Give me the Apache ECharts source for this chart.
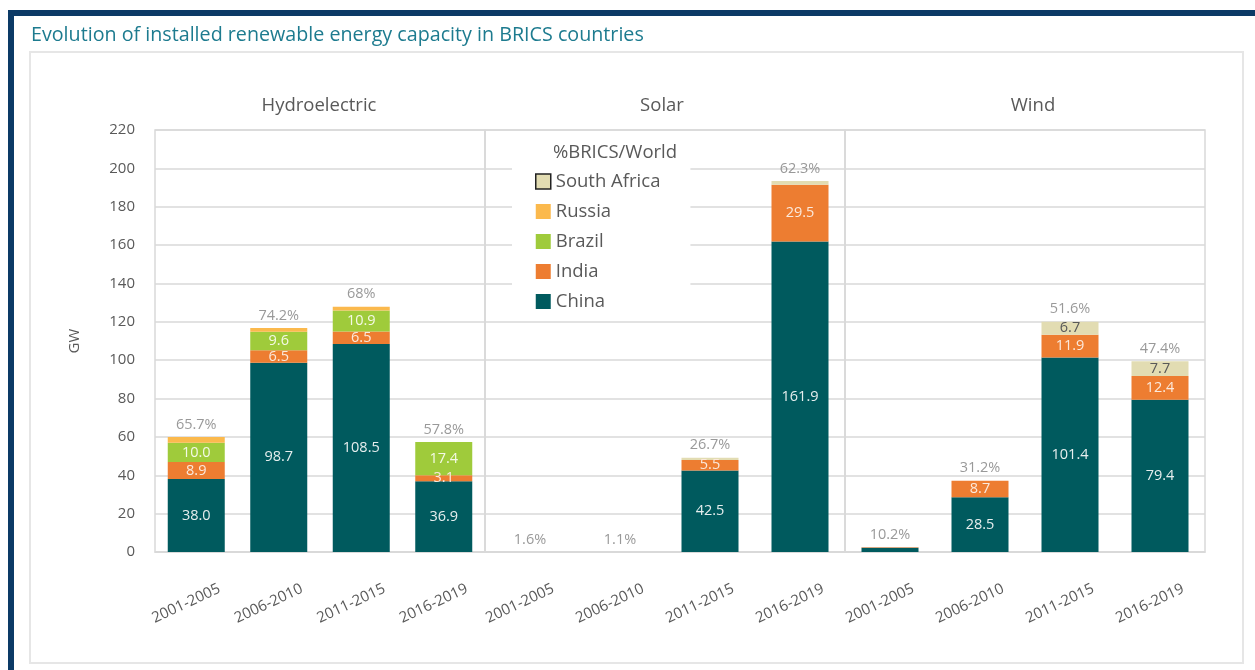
<!DOCTYPE html>
<html>
<head>
<meta charset="utf-8"/>
<title>BRICS renewable capacity</title>
<script src="https://cdn.jsdelivr.net/npm/echarts@6/dist/echarts.min.js"></script>
<style>
  html, body { margin: 0; padding: 0; background: #fff; }
  #chart { width: 1255px; height: 670px; }
</style>
</head>
<body>
<div id="chart"></div>
<script type="text/javascript">
// periods on each panel
var periods = ['2001-2005', '2006-2010', '2011-2015', '2016-2019'];
var panels = ['Hydroelectric', 'Solar', 'Wind'];
var countries = ['China', 'India', 'Brazil', 'Russia', 'South Africa'];

// GW, per panel: hydro, solar, wind
var china  = [[38.0, 98.7, 108.5, 36.9], [0, 0, 42.5, 161.9], [2.2, 28.5, 101.4, 79.4]];
var india  = [[8.9, 6.5, 6.5, 3.1],      [0, 0, 5.5, 29.5],   [0.3, 8.7, 11.9, 12.4]];
var brazil = [[10.0, 9.6, 10.9, 17.4],   [0, 0, 0, 0],        [0, 0, 0, 0]];
var russia = [[3.0, 2.0, 2.0, 0],        [0, 0, 0, 0],        [0, 0, 0, 0]];
var safrica= [[0, 0, 0, 0],              [0, 0, 1.2, 2.0],    [0, 0, 6.7, 7.7]];

// %BRICS/World share shown above each bar
var shares = [['65.7%', '74.2%', '68%', '57.8%'],
              ['1.6%', '1.1%', '26.7%', '62.3%'],
              ['10.2%', '31.2%', '51.6%', '47.4%']];

var yTicks = { min: 0, max: 220, interval: 20 };

var colors = {
  'China': '#005a5e',
  'India': '#ed7d31',
  'Brazil': '#9fcb3b',
  'Russia': '#fbb94d',
  'South Africa': '#e2dcb2'
};
var labelColors = {
  'China': '#e6eeee',
  'India': '#fbe9dc',
  'Brazil': '#f4f9e6',
  'Russia': '#fff',
  'South Africa': '#595959'
};
var valuesOf = {
  'China': china, 'India': india, 'Brazil': brazil, 'Russia': russia, 'South Africa': safrica
};

var font = 'Open Sans';
var grey = '#595959';
var gridLeft = [155, 485, 845];
var gridWidth = [330, 360, 360];
var panelTitleX = [314, 657, 1028];

var grids = [], xAxes = [], yAxes = [], series = [];
var titles = [{
  text: 'Evolution of installed renewable energy capacity in BRICS countries',
  left: 26, top: 20,
  textStyle: { color: '#1d7b8f', fontSize: 19.7, fontWeight: 'normal', fontFamily: font }
}];

panels.forEach(function (p, k) {
  grids.push({
    left: gridLeft[k], width: gridWidth[k], top: 130, height: 422,
    show: true, borderColor: '#d9d9d9', borderWidth: 1.5
  });
  titles.push({
    text: p, left: panelTitleX[k], top: 91, textAlign: 'center',
    textStyle: { color: grey, fontSize: 18.5, fontWeight: 'normal', fontFamily: font }
  });
  xAxes.push({
    type: 'category', gridIndex: k, data: periods,
    axisTick: { show: false },
    axisLine: { lineStyle: { color: '#d9d9d9', width: 1.5 } },
    axisLabel: {
      rotate: 25, align: 'center', verticalAlign: 'middle', margin: 47,
      padding: [0, 22, 0, 0],
      color: grey, fontSize: 15, fontFamily: font
    }
  });
  yAxes.push({
    type: 'value', gridIndex: k,
    min: yTicks.min, max: yTicks.max, interval: yTicks.interval,
    name: k === 0 ? 'GW' : '', nameLocation: 'middle', nameGap: 73, nameRotate: 90,
    nameTextStyle: { color: grey, fontSize: 15, fontFamily: font },
    axisLine: { show: false }, axisTick: { show: false },
    axisLabel: { show: k === 0, color: grey, fontSize: 15, fontFamily: font, margin: 20 },
    splitLine: { lineStyle: { color: '#d9d9d9', width: 1.5 } }
  });
  countries.forEach(function (c) {
    series.push({
      name: c, type: 'bar', stack: 'p' + k,
      xAxisIndex: k, yAxisIndex: k,
      barWidth: 57,
      data: valuesOf[c][k],
      itemStyle: { color: colors[c] },
      label: {
        show: c !== 'Russia', position: 'inside',
        color: labelColors[c], fontSize: 14.5, fontFamily: font,
        formatter: function (d) { return d.value > 3 ? d.value.toFixed(1) : ''; }
      }
    });
  });
  // share labels sit on top of each stack
  var tops = periods.map(function (_, i) {
    var s = 0;
    countries.forEach(function (c) { s += valuesOf[c][k][i]; });
    return [i, s];
  });
  series.push({
    type: 'scatter', xAxisIndex: k, yAxisIndex: k,
    symbolSize: 0, silent: true, data: tops,
    label: {
      show: true, position: 'top', distance: 5,
      color: '#7f7f7f', fontSize: 14.5, fontFamily: font,
      formatter: function (d) { return shares[k][d.dataIndex]; }
    }
  });
});

titles.push({
  text: '%BRICS/World', left: 610, top: 138, textAlign: 'center',
  textStyle: { color: grey, fontSize: 18.5, fontWeight: 'normal', fontFamily: font }
});

var option = {
  animation: false,
  title: titles,
  legend: {
    data: [
      { name: 'South Africa', itemStyle: { borderColor: '#222', borderWidth: 1.5 } },
      'Russia', 'Brazil', 'India', 'China'
    ],
    orient: 'vertical', left: 512, top: 137,
    padding: [35, 30, 6, 23],
    backgroundColor: '#fff',
    itemWidth: 15, itemHeight: 15, itemGap: 11,
    icon: 'rect',
    textStyle: { color: grey, fontSize: 18.5, fontFamily: font }
  },
  grid: grids,
  xAxis: xAxes,
  yAxis: yAxes,
  series: series,
  graphic: [
    { type: 'rect', shape: { x: 8, y: 10, width: 1247, height: 6 }, style: { fill: '#0c3a66' } },
    { type: 'rect', shape: { x: 8, y: 10, width: 6, height: 660 }, style: { fill: '#0c3a66' } },
    { type: 'rect', shape: { x: 30, y: 52, width: 1213, height: 611 },
      style: { fill: 'none', stroke: '#e6e6e6', lineWidth: 2 } }
  ]
};

var myChart = echarts.init(document.getElementById('chart'));
myChart.setOption(option);
</script>
</body>
</html>
